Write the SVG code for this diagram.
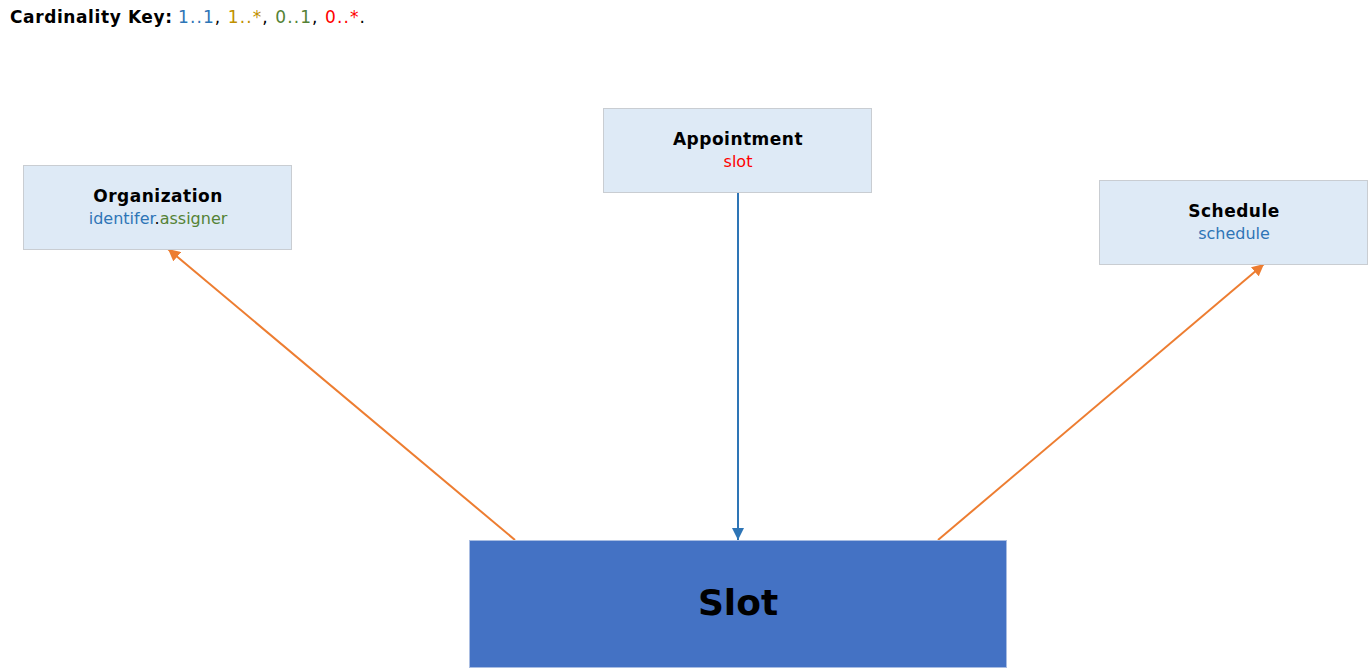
<svg xmlns="http://www.w3.org/2000/svg" width="1369" height="668" viewBox="0 0 1369 668">
<style>
text{font-family:"DejaVu Sans",Verdana,sans-serif}
.box{fill:#DEEAF6;stroke:#C9CDD2;stroke-width:1}
.title{font-size:17px;font-weight:bold;fill:#000;text-anchor:middle;letter-spacing:0.5px}
.sub{font-size:16px;text-anchor:middle}
.c11{fill:#2E75B6}.c1n{fill:#BF9000}.c01{fill:#548235}.c0n{fill:#FF0000}
.orange{stroke:#ED7D31;stroke-width:2;fill:none}
.blue{stroke:#2E75B6;stroke-width:2;fill:none}
</style>
<defs>
<marker id="ao" viewBox="0 0 10 10" refX="10" refY="5" markerWidth="6" markerHeight="6" markerUnits="strokeWidth" orient="auto"><path d="M0,0L10,5L0,10z" fill="#ED7D31"/></marker>
<marker id="ab" viewBox="0 0 10 10" refX="10" refY="5" markerWidth="6" markerHeight="6" markerUnits="strokeWidth" orient="auto"><path d="M0,0L10,5L0,10z" fill="#2E75B6"/></marker>
</defs>
<rect width="1369" height="668" fill="#fff"/>
<g id="key">
<text x="10" y="23" font-size="17" font-weight="bold" fill="#000" textLength="162" lengthAdjust="spacing">Cardinality Key:</text>
<text x="178" y="23" font-size="17" fill="#000" textLength="187" lengthAdjust="spacing"><tspan class="c11">1..1</tspan>, <tspan class="c1n">1..*</tspan>, <tspan class="c01">0..1</tspan>, <tspan class="c0n">0..*</tspan>.</text>
</g>
<g id="connectors">
<line class="orange" x1="515" y1="540" x2="168" y2="249" marker-end="url(#ao)"/>
<line class="blue" x1="738" y1="192" x2="738" y2="540" marker-end="url(#ab)"/>
<line class="orange" x1="938" y1="540" x2="1264" y2="264" marker-end="url(#ao)"/>
</g>
<g id="organization">
<rect class="box" x="23.5" y="165.5" width="268" height="84"/>
<text class="title" x="158" y="202">Organization</text>
<text class="sub" x="158" y="224"><tspan class="c11">identifer</tspan><tspan fill="#000">.</tspan><tspan class="c01">assigner</tspan></text>
</g>
<g id="appointment">
<rect class="box" x="603.5" y="108.5" width="268" height="84"/>
<text class="title" x="738" y="145">Appointment</text>
<text class="sub c0n" x="738" y="167">slot</text>
</g>
<g id="schedule">
<rect class="box" x="1099.5" y="180.5" width="268" height="84"/>
<text class="title" x="1234" y="217">Schedule</text>
<text class="sub c11" x="1234" y="239">schedule</text>
</g>
<g id="slot">
<rect x="469.5" y="540.5" width="537" height="127" fill="#4472C4" stroke="#A9BDE2" stroke-width="1"/>
<text x="738" y="615" font-size="36" font-weight="bold" text-anchor="middle" fill="#000">Slot</text>
</g>
</svg>
